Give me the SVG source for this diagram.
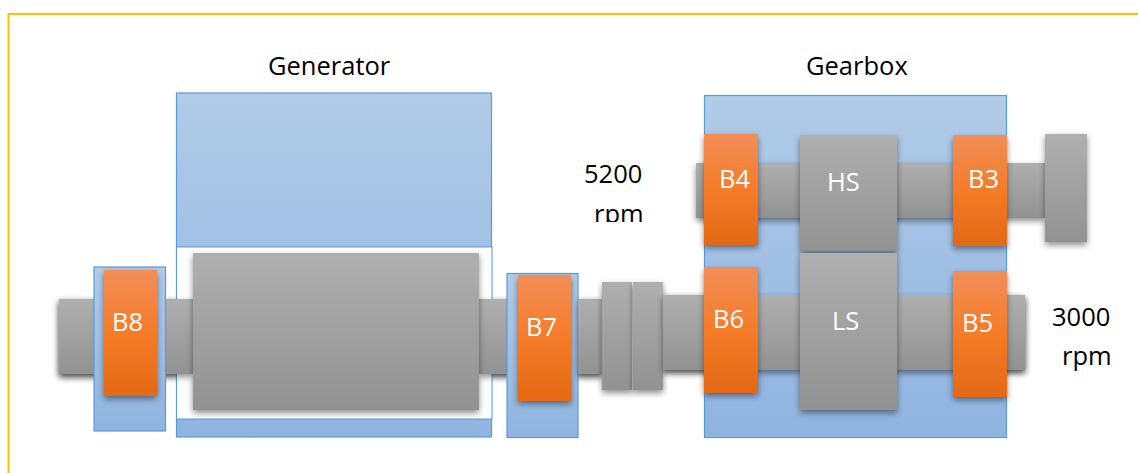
<svg xmlns="http://www.w3.org/2000/svg" width="1138" height="473" viewBox="0 0 1138 473">
<style>
text{font-family:"Open Sans","Lato",sans-serif;font-size:25.500px}
.dark{fill:#000}
.lt{fill:#fff}
.blue{fill:url(#bl);stroke:#5b9bd5;stroke-width:1.2}
.gray{fill:url(#gr);filter:url(#sh)}
.org{fill:url(#or);filter:url(#sh)}
</style>
<defs>
<linearGradient id="bl" x1="0" y1="0" x2="0" y2="1"><stop offset="0" stop-color="#b1cbe8"/><stop offset="1" stop-color="#8fb4e0"/></linearGradient>
<linearGradient id="gr" x1="0" y1="0" x2="0" y2="1"><stop offset="0" stop-color="#afafaf"/><stop offset="1" stop-color="#929292"/></linearGradient>
<linearGradient id="or" x1="0" y1="0" x2="0" y2="1"><stop offset="0" stop-color="#f28e58"/><stop offset=".5" stop-color="#f57b28"/><stop offset="1" stop-color="#e46815"/></linearGradient>
<filter id="sh" x="-15%" y="-10%" width="130%" height="125%"><feDropShadow dx="0" dy="3" stdDeviation="3" flood-color="#000" flood-opacity=".45"/></filter>
<clipPath id="rpmclip"><rect x="570" y="190" width="90" height="32"/></clipPath>
</defs>
<rect id="frame" x="8.5" y="14" width="1140" height="470" fill="#fff" stroke="#ffc000" stroke-width="2"/>
<g id="connectors">
<rect class="gray" x="59" y="299" width="543" height="75"/>
<rect class="gray" x="663" y="295" width="362" height="75"/>
</g>
<g id="generator-housing">
<rect class="blue" x="176.500" y="93" width="315" height="344"/>
<rect x="176.500" y="247" width="315.500" height="172" fill="#fff" stroke="#5b9bd5" stroke-width="1"/>
<rect class="gray" x="59" y="299" width="134" height="75"/>
<rect class="gray" x="479" y="299" width="45" height="75"/>
</g>
<g id="generator-label"><text class="dark" x="268" y="75">Generator</text></g>
<g id="generator-rotor"><rect class="gray" x="193" y="253" width="286" height="157"/></g>
<g id="b8-housing"><rect class="blue" x="94" y="267" width="71.500" height="164"/></g>
<g id="b7-housing"><rect class="blue" x="507" y="273.500" width="71" height="164"/></g>
<g id="shaft-joints">
<rect class="gray" x="578" y="299" width="24" height="75"/>
</g>
<g id="coupling-1"><rect class="gray" x="602" y="282" width="30" height="108"/></g>
<g id="coupling-2"><rect class="gray" x="633" y="282" width="30" height="108"/></g>
<g id="gearbox-housing"><rect class="blue" x="704.500" y="95.500" width="302" height="342"/></g>
<g id="gearbox-label"><text class="dark" x="806" y="75">Gearbox</text></g>
<g id="hs-shaft"><rect class="gray" x="696" y="163" width="349" height="55"/></g>
<g id="ls-shaft"><rect class="gray" x="663" y="295" width="362" height="75"/></g>
<g id="disk"><rect class="gray" x="1045" y="134" width="42" height="108"/></g>
<g id="hs"><rect class="gray" x="800" y="135" width="97" height="116"/><text class="lt" x="827" y="191">HS</text></g>
<g id="ls"><rect class="gray" x="800" y="253" width="97" height="157"/><text class="lt" x="832" y="330">LS</text></g>
<g id="b8"><rect class="org" x="104" y="270" width="53" height="126"/><text class="lt" x="112" y="331">B8</text></g>
<g id="b7"><rect class="org" x="518" y="275" width="53" height="126"/><text class="lt" x="526" y="336">B7</text></g>
<g id="b6"><rect class="org" x="704" y="267" width="54" height="126"/><text class="lt" x="713" y="328">B6</text></g>
<g id="b5"><rect class="org" x="953" y="271" width="54" height="126"/><text class="lt" x="962" y="332">B5</text></g>
<g id="b4"><rect class="org" x="704" y="134" width="54" height="111"/><text class="lt" x="719" y="188">B4</text></g>
<g id="b3"><rect class="org" x="953" y="135" width="54" height="111"/><text class="lt" x="968" y="188">B3</text></g>
<g id="rpm-5200"><text class="dark" x="584" y="183">5200</text><text class="dark" x="594" y="223" clip-path="url(#rpmclip)">rpm</text></g>
<g id="rpm-3000"><text class="dark" x="1052" y="326">3000</text><text class="dark" x="1062" y="365">rpm</text></g>
</svg>
